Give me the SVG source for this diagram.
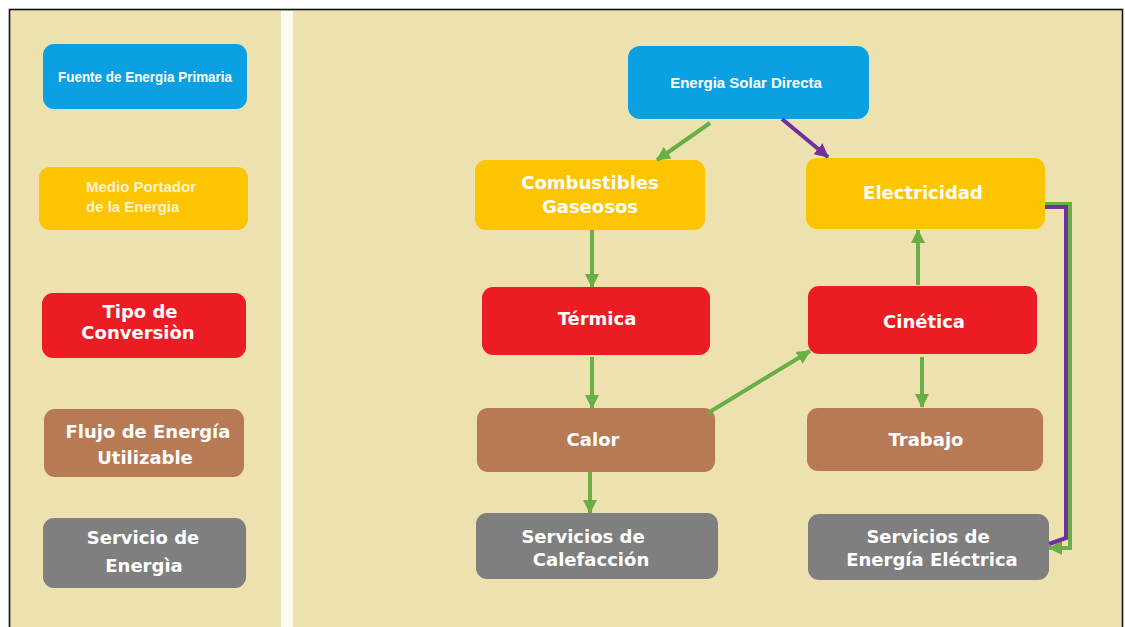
<svg xmlns="http://www.w3.org/2000/svg" width="1125" height="627" viewBox="0 0 1125 627">
<defs>
<style>
.bx{stroke:none}
.blue{fill:#0AA0E2}.yel{fill:#FCC500}.red{fill:#EC1C24}.brn{fill:#B77A55}.gry{fill:#7F7F7F}
.t{font-family:"DejaVu Sans","Liberation Sans",sans-serif;font-weight:bold;font-size:18px;fill:#FFFFFF;text-anchor:middle}
.n{font-family:"Liberation Sans",Arial,sans-serif;font-weight:bold;font-size:15px;fill:#FFFFFF;text-anchor:middle}
.g{fill:none;stroke:#6AAF45;stroke-width:4}
.p{fill:none;stroke:#7030A0;stroke-width:4}
</style>
<marker id="ag" viewBox="0 0 14 14" refX="13" refY="7" markerWidth="14" markerHeight="14" markerUnits="userSpaceOnUse" orient="auto">
<path d="M0,0 L14,7 L0,14 Z" fill="#6AAF45"/>
</marker>
<marker id="ap" viewBox="0 0 14 14" refX="13" refY="7" markerWidth="14" markerHeight="14" markerUnits="userSpaceOnUse" orient="auto">
<path d="M0,0 L14,7 L0,14 Z" fill="#7030A0"/>
</marker>
</defs>
<rect x="0" y="0" width="1125" height="627" fill="#FFFFFF"/>
<rect x="9.5" y="9.5" width="1113" height="630" fill="#EDE1AF" stroke="#111111" stroke-width="1.6"/>
<rect x="281" y="11" width="12" height="616" fill="#FDFBF2"/>

<g id="legend-fuente"><rect class="bx blue" x="43" y="44" width="204" height="65" rx="11"/>
<text class="n" x="145" y="82" font-size="14" textLength="174" lengthAdjust="spacingAndGlyphs">Fuente de Energia Primaria</text></g>
<g id="legend-medio"><rect class="bx yel" x="39" y="167" width="209" height="63" rx="11"/>
<text class="n" x="86" y="192" style="text-anchor:start;fill:#FFF3CF">Medio Portador</text>
<text class="n" x="86" y="212" style="text-anchor:start;fill:#FFF3CF">de la Energia</text></g>
<g id="legend-tipo"><rect class="bx red" x="42" y="293" width="204" height="65" rx="11"/>
<text class="t" x="140" y="318">Tipo de</text><text class="t" x="138" y="339">Conversiòn</text></g>
<g id="legend-flujo"><rect class="bx brn" x="44" y="409" width="200" height="68" rx="11"/>
<text class="t" x="148" y="438">Flujo de Energía</text><text class="t" x="145" y="464">Utilizable</text></g>
<g id="legend-servicio"><rect class="bx gry" x="43" y="518" width="203" height="70" rx="11"/>
<text class="t" x="143" y="544">Servicio de</text><text class="t" x="144" y="572">Energìa</text></g>

<g id="solar"><rect class="bx blue" x="628" y="46" width="241" height="73" rx="12"/>
<text class="n" x="746" y="88">Energia Solar Directa</text></g>
<g id="combustibles"><rect class="bx yel" x="475" y="160" width="230" height="70" rx="11"/>
<text class="t" x="590" y="189">Combustibles</text><text class="t" x="590" y="213">Gaseosos</text></g>
<g id="electricidad"><rect class="bx yel" x="806" y="158" width="239" height="71" rx="11"/>
<text class="t" x="923" y="199">Electricidad</text></g>
<g id="termica"><rect class="bx red" x="482" y="287" width="228" height="68" rx="11"/>
<text class="t" x="597" y="325">Térmica</text></g>
<g id="cinetica"><rect class="bx red" x="808" y="286" width="229" height="68" rx="11"/>
<text class="t" x="924" y="328">Cinética</text></g>
<g id="calor"><rect class="bx brn" x="477" y="408" width="238" height="64" rx="11"/>
<text class="t" x="593" y="446">Calor</text></g>
<g id="trabajo"><rect class="bx brn" x="807" y="408" width="236" height="63" rx="11"/>
<text class="t" x="926" y="446">Trabajo</text></g>
<g id="calefaccion"><rect class="bx gry" x="476" y="513" width="242" height="66" rx="11"/>
<text class="t" x="583" y="543">Servicios de</text><text class="t" x="591" y="566">Calefacción</text></g>
<g id="electrica"><rect class="bx gry" x="808" y="514" width="241" height="66" rx="11"/>
<text class="t" x="928" y="543">Servicios de</text><text class="t" x="932" y="566">Energía Eléctrica</text></g>

<g id="connectors">
<path class="g" d="M710,123 L657,160" marker-end="url(#ag)"/>
<path class="p" d="M782,119 L828,157" marker-end="url(#ap)"/>
<path class="g" d="M592,230 L592,287" marker-end="url(#ag)"/>
<path class="g" d="M592,357 L592,408" marker-end="url(#ag)"/>
<path class="g" d="M708,413 L810,351" marker-end="url(#ag)"/>
<path class="g" d="M918,285 L918,230" marker-end="url(#ag)"/>
<path class="g" d="M922,357 L922,407" marker-end="url(#ag)"/>
<path class="g" d="M590,472 L590,513" marker-end="url(#ag)"/>
<path class="g" d="M1045,204 L1070,204 L1070,548 L1049,548" marker-end="url(#ag)"/>
<path class="p" d="M1045,207 L1066,207 L1066,538 L1049,544"/>
</g>
</svg>
